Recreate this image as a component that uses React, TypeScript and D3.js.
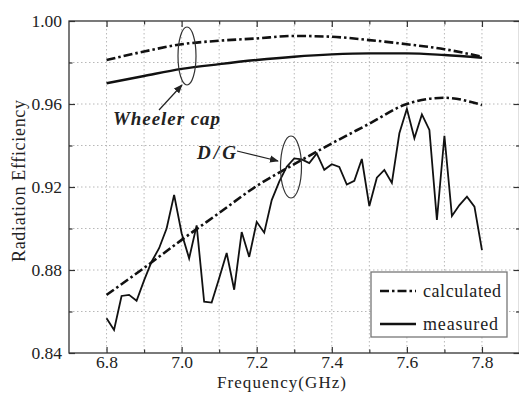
import * as d3 from "d3"
import { useEffect, useRef } from "react"

// Wheeler cap + D/G (calculated curves sampled every 0.1 GHz)
const curveFreq = [6.8, 6.9, 7.0, 7.1, 7.2, 7.3, 7.4, 7.5, 7.6, 7.7, 7.8]
const wheelerCalculated = [0.9812, 0.9853, 0.9888, 0.9905, 0.9916, 0.9928, 0.9924, 0.9908, 0.9888, 0.9864, 0.9828]
const wheelerMeasured = [0.970, 0.9735, 0.9769, 0.9792, 0.9812, 0.9828, 0.9839, 0.9844, 0.9844, 0.9836, 0.9823]
const dgCalculated = [0.868, 0.881, 0.8945, 0.9075, 0.9205, 0.931, 0.941, 0.9505, 0.960, 0.963, 0.9595]

// D/G measured, every 0.02 GHz
const dgFreq = [
  6.8, 6.82, 6.84, 6.86, 6.88, 6.9, 6.92, 6.94, 6.96, 6.98,
  7.0, 7.02, 7.04, 7.06, 7.08, 7.1, 7.12, 7.14, 7.16, 7.18,
  7.2, 7.22, 7.24, 7.26, 7.28, 7.3, 7.32, 7.34, 7.36, 7.38,
  7.4, 7.42, 7.44, 7.46, 7.48, 7.5, 7.52, 7.54, 7.56, 7.58,
  7.6, 7.62, 7.64, 7.66, 7.68, 7.7, 7.72, 7.74, 7.76, 7.78, 7.8,
]
const dgMeasured = [
  0.8567, 0.8511, 0.8675, 0.868, 0.8652, 0.875, 0.884, 0.8905, 0.9, 0.9162,
  0.8977, 0.8856, 0.9015, 0.8647, 0.8643, 0.876, 0.8882, 0.8705, 0.8983, 0.8863,
  0.9032, 0.898, 0.9137, 0.9226, 0.9298, 0.9338, 0.9333, 0.9315, 0.9362, 0.9283,
  0.931, 0.9297, 0.9212, 0.923, 0.9335, 0.9108, 0.9245, 0.9282, 0.922, 0.9459,
  0.9577, 0.9435, 0.955, 0.9475, 0.9041, 0.9447, 0.906, 0.9113, 0.9153, 0.9105, 0.8896,
]

const xMajor = [6.8, 7.0, 7.2, 7.4, 7.6, 7.8]
const xMinor = [6.9, 7.1, 7.3, 7.5, 7.7]
const yMajor = [0.84, 0.88, 0.92, 0.96, 1.0]
const yMinor = [0.86, 0.9, 0.94, 0.98]

const legendLabels = ["calculated", "measured"]

const FONT = "'Liberation Serif', 'Times New Roman', serif"
const DASHDOT = "9,3,2.5,3"

const App = () => {
  const svgRef = useRef<SVGSVGElement | null>(null)

  useEffect(() => {
    if (!svgRef.current) return
    const root = d3.select(svgRef.current)
    root.selectAll("*").remove()

    const W = 519
    const H = 395
    const margin = { top: 21, right: -0.5, bottom: 42, left: 69 }
    const innerW = W - margin.left - margin.right
    const innerH = H - margin.top - margin.bottom

    const svg = root.attr("width", W).attr("height", H)
    const g = svg.append("g").attr("transform", `translate(${margin.left},${margin.top})`)

    const x = d3.scaleLinear().domain([6.7, 7.9]).range([0, innerW])
    const y = d3.scaleLinear().domain([0.84, 1.0]).range([innerH, 0])

    // grid
    const grid = g.append("g").attr("stroke", "#b8b8b8").attr("stroke-width", 1).attr("stroke-dasharray", "1.5,2.5")
    ;[...xMajor, ...xMinor].forEach(v => {
      grid.append("line").attr("x1", x(v)).attr("x2", x(v)).attr("y1", 0).attr("y2", innerH)
    })
    ;[...yMajor.slice(1, -1), ...yMinor].forEach(v => {
      grid.append("line").attr("x1", 0).attr("x2", innerW).attr("y1", y(v)).attr("y2", y(v))
    })

    // axes (ticks inward)
    const styleAxis = (sel: d3.Selection<SVGGElement, unknown, null, undefined>) => {
      sel.select(".domain").remove()
      sel.selectAll("line").attr("stroke", "#333").attr("stroke-width", 1.2)
      sel.selectAll("text").attr("fill", "#222").style("font-family", FONT).style("font-size", "17.5px")
    }
    g.append("g").attr("transform", `translate(0,${innerH})`)
      .call(d3.axisBottom(x).tickValues(xMajor).tickSize(-6).tickSizeOuter(0).tickPadding(2.5).tickFormat(d3.format(".1f")))
      .call(styleAxis)
    g.append("g").attr("transform", `translate(0,${innerH})`)
      .call(d3.axisBottom(x).tickValues(xMinor).tickSize(-3.5).tickSizeOuter(0).tickFormat(() => ""))
      .call(styleAxis)
    g.append("g")
      .call(d3.axisTop(x).tickValues(xMajor).tickSize(-6).tickSizeOuter(0).tickFormat(() => ""))
      .call(styleAxis)
    g.append("g")
      .call(d3.axisTop(x).tickValues(xMinor).tickSize(-3.5).tickSizeOuter(0).tickFormat(() => ""))
      .call(styleAxis)
    g.append("g")
      .call(d3.axisLeft(y).tickValues(yMajor).tickSize(-6).tickSizeOuter(0).tickPadding(7).tickFormat(d3.format(".2f")))
      .call(styleAxis)
    g.append("g")
      .call(d3.axisLeft(y).tickValues(yMinor).tickSize(-3.5).tickSizeOuter(0).tickFormat(() => ""))
      .call(styleAxis)
    g.append("g").attr("transform", `translate(${innerW},0)`)
      .call(d3.axisRight(y).tickValues(yMajor).tickSize(-6).tickSizeOuter(0).tickFormat(() => ""))
      .call(styleAxis)
    g.append("g").attr("transform", `translate(${innerW},0)`)
      .call(d3.axisRight(y).tickValues(yMinor).tickSize(-3.5).tickSizeOuter(0).tickFormat(() => ""))
      .call(styleAxis)

    // frame
    g.append("rect")
      .attr("width", innerW).attr("height", innerH)
      .attr("fill", "none").attr("stroke", "#333").attr("stroke-width", 1.3)

    // lines
    const smooth = d3.line<number>().x((_d, i) => x(curveFreq[i])).y(d => y(d)).curve(d3.curveMonotoneX)
    const jagged = d3.line<number>().x((_d, i) => x(dgFreq[i])).y(d => y(d))

    g.append("path").attr("d", smooth(wheelerCalculated)).attr("fill", "none")
      .attr("stroke", "#111").attr("stroke-width", 2.6).attr("stroke-dasharray", DASHDOT)
    g.append("path").attr("d", smooth(wheelerMeasured)).attr("fill", "none")
      .attr("stroke", "#111").attr("stroke-width", 2.4)
    g.append("path").attr("d", smooth(dgCalculated)).attr("fill", "none")
      .attr("stroke", "#111").attr("stroke-width", 2.6).attr("stroke-dasharray", DASHDOT)
    g.append("path").attr("d", jagged(dgMeasured)).attr("fill", "none")
      .attr("stroke", "#111").attr("stroke-width", 1.8).attr("stroke-linejoin", "miter")

    // annotations
    const defs = svg.append("defs")
    defs.append("marker")
      .attr("id", "arrow").attr("viewBox", "0 0 10 10").attr("refX", 9).attr("refY", 5)
      .attr("markerWidth", 9).attr("markerHeight", 9).attr("markerUnits", "userSpaceOnUse")
      .attr("orient", "auto")
      .append("path").attr("d", "M0,1 L10,5 L0,9 Z").attr("fill", "#222")

    const ann = svg.append("g")
    ann.append("ellipse").attr("cx", 187).attr("cy", 56).attr("rx", 9).attr("ry", 29)
      .attr("fill", "none").attr("stroke", "#333").attr("stroke-width", 1.2)
    ann.append("line").attr("x1", 159).attr("y1", 110).attr("x2", 182).attr("y2", 85)
      .attr("stroke", "#222").attr("stroke-width", 1.2).attr("marker-end", "url(#arrow)")
    ann.append("text").attr("x", 113).attr("y", 125)
      .style("font-family", FONT).style("font-size", "19px").style("font-weight", "bold").style("font-style", "italic")
      .attr("textLength", 107).attr("fill", "#222").text("Wheeler cap")

    ann.append("ellipse").attr("cx", 291).attr("cy", 167).attr("rx", 10.5).attr("ry", 31)
      .attr("fill", "none").attr("stroke", "#333").attr("stroke-width", 1.2)
    ann.append("line").attr("x1", 237).attr("y1", 151).attr("x2", 278).attr("y2", 161)
      .attr("stroke", "#222").attr("stroke-width", 1.2).attr("marker-end", "url(#arrow)")
    ann.append("text").attr("x", 197).attr("y", 159)
      .style("font-family", FONT).style("font-size", "19px").style("font-weight", "bold").style("font-style", "italic")
      .attr("textLength", 39).attr("fill", "#222").text("D/G")

    // axis titles
    svg.append("text").attr("x", 281.5).attr("y", 388).attr("text-anchor", "middle")
      .style("font-family", FONT).style("font-size", "17px").attr("fill", "#222")
      .attr("textLength", 129).text("Frequency(GHz)")
    svg.append("text").attr("transform", "translate(25,181) rotate(-90)").attr("text-anchor", "middle")
      .style("font-family", FONT).style("font-size", "18px").attr("fill", "#222")
      .attr("textLength", 162).text("Radiation Efficiency")

    // legend
    const lg = svg.append("g")
    lg.append("rect").attr("x", 371).attr("y", 272).attr("width", 136).attr("height", 65)
      .attr("fill", "#fff").attr("stroke", "#777").attr("stroke-width", 1.3)
    legendLabels.forEach((label, i) => {
      const ly = 291 + i * 33
      lg.append("line").attr("x1", 380).attr("x2", 416).attr("y1", ly).attr("y2", ly)
        .attr("stroke", "#111").attr("stroke-width", i === 0 ? 2.6 : 2.4)
        .attr("stroke-dasharray", i === 0 ? DASHDOT : null)
      lg.append("text").attr("x", 423).attr("y", ly + 6)
        .style("font-family", FONT).style("font-size", "18px").attr("fill", "#222")
        .attr("textLength", i === 0 ? 78 : 75).text(label)
    })
  }, [])

  return <svg ref={svgRef} style={{ position: "absolute", left: 0, top: 0 }} />
}

export default App
